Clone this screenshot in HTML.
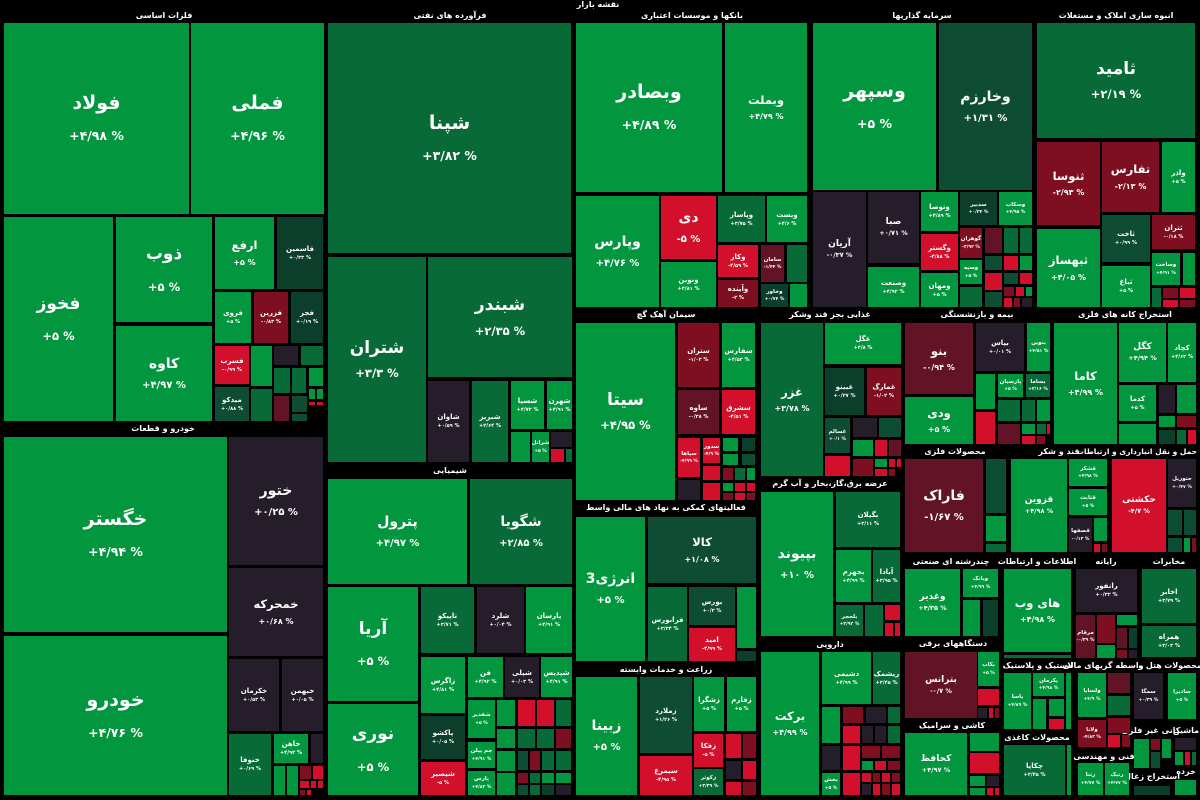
<!DOCTYPE html>
<html><head><meta charset="utf-8">
<style>
html,body{margin:0;padding:0;background:#000;}
#m{position:relative;width:1200px;height:800px;background:#000;overflow:hidden;font-family:"DejaVu Sans","Liberation Sans",sans-serif;color:#fff;}
.c{position:absolute;display:flex;flex-direction:column;align-items:center;justify-content:center;overflow:hidden;text-align:center;line-height:1.15;}
.c b{display:block;font-weight:bold;white-space:nowrap;direction:rtl;}
.c i{display:block;font-style:normal;font-weight:bold;direction:ltr;unicode-bidi:isolate;white-space:nowrap;}
.h{position:absolute;width:200px;height:12px;line-height:12px;font-size:8px;font-weight:bold;text-align:center;white-space:nowrap;direction:rtl;color:#fff;}
.a{background:#02963f}.m{background:#086b37}.d{background:#0e4c34}.e{background:#0b3f2c}
.n{background:#261d2a}.p{background:#621326}.r{background:#7e0f20}.s{background:#d2102c}
.t1 b{font-size:19px}.t1 i{font-size:12.5px;margin-top:14px}
.t2 b{font-size:17px}.t2 i{font-size:11.5px;margin-top:16px}
.t2b b{font-size:17px}.t2b i{font-size:11.5px;margin-top:9px}
.t3 b{font-size:14px}.t3 i{font-size:10px;margin-top:8px}
.t4 b{font-size:11.5px}.t4 i{font-size:8px;margin-top:5px}
.t5 b{font-size:9px}.t5 i{font-size:6.5px;margin-top:3px}
.t6 b{font-size:7px}.t6 i{font-size:5px;margin-top:3px}
.t7 b{font-size:5.5px}.t7 i{font-size:4.5px;margin-top:2px}
</style></head><body>
<div id="m">
<!-- headers -->
<div class="h" style="left:498px;top:-1px">نقشه بازار</div>
<div class="h" style="left:64px;top:10px">فلزات اساسی</div>
<div class="h" style="left:350px;top:10px">فرآورده های نفتی</div>
<div class="h" style="left:592px;top:10px">بانکها و موسسات اعتباری</div>
<div class="h" style="left:822px;top:10px">سرمایه گذاریها</div>
<div class="h" style="left:1016px;top:10px">انبوه سازی املاک و مستغلات</div>
<div class="h" style="left:63px;top:423px">خودرو و قطعات</div>
<div class="h" style="left:350px;top:465px">شیمیایی</div>
<div class="h" style="left:566px;top:309px">سیمان آهک گچ</div>
<div class="h" style="left:566px;top:502px">فعالیتهای کمکی به نهاد های مالی واسط</div>
<div class="h" style="left:566px;top:664px">زراعت و خدمات وابسته</div>
<div class="h" style="left:730px;top:309px">غذایی بجز قند وشکر</div>
<div class="h" style="left:730px;top:478px">عرضه برق،گاز،بخار و آب گرم</div>
<div class="h" style="left:730px;top:639px">دارویی</div>
<div class="h" style="left:877px;top:309px">بیمه و بازنشستگی</div>
<div class="h" style="left:1025px;top:309px">استخراج کانه های فلزی</div>
<div class="h" style="left:855px;top:446px">محصولات فلزی</div>
<div class="h" style="left:959px;top:446px">قند و شکر</div>
<div class="h" style="left:997px;top:446px;text-align:right;font-size:7.5px">حمل و نقل انبارداری و ارتباطات</div>
<div class="h" style="left:851px;top:556px">چندرشته ای صنعتی</div>
<div class="h" style="left:937px;top:556px">اطلاعات و ارتباطات</div>
<div class="h" style="left:1006px;top:556px">رایانه</div>
<div class="h" style="left:1069px;top:556px">مخابرات</div>
<div class="h" style="left:853px;top:638px">دستگاههای برقی</div>
<div class="h" style="left:938px;top:660px">لاستیک و پلاستیک</div>
<div class="h" style="left:1003px;top:660px">واسطه گریهای مالی</div>
<div class="h" style="left:1050px;top:660px">هتل و</div>
<div class="h" style="left:1083px;top:660px">محصولات</div>
<div class="h" style="left:852px;top:720px">کاشی و سرامیک</div>
<div class="h" style="left:937px;top:732px">محصولات کاغذی</div>
<div class="h" style="left:1004px;top:751px">فنی و مهندسی</div>
<div class="h" style="left:1051px;top:725px">کانی غیر فلزی</div>
<div class="h" style="left:1086px;top:725px">ماشین</div>
<div class="h" style="left:1052px;top:771px">استخراج زغال</div>
<div class="h" style="left:1086px;top:766px">خرده</div>

<!-- فلزات اساسی -->
<div class="c a t1" style="left:4px;top:23px;width:185px;height:191px"><b>فولاد</b><i>+۴/۹۸ %</i></div>
<div class="c a t1" style="left:191px;top:23px;width:133px;height:191px"><b>فملی</b><i>+۴/۹۶ %</i></div>
<div class="c a t2" style="left:4px;top:217px;width:109px;height:204px"><b>فخوز</b><i>+۵ %</i></div>
<div class="c a t2" style="left:116px;top:217px;width:96px;height:105px"><b>ذوب</b><i>+۵ %</i></div>
<div class="c a t3" style="left:116px;top:326px;width:96px;height:95px"><b>کاوه</b><i>+۴/۹۷ %</i></div>
<div class="c a t4" style="left:215px;top:217px;width:59px;height:72px"><b>ارفع</b><i>+۵ %</i></div>
<div class="c e t6" style="left:277px;top:217px;width:46px;height:72px"><b>قاسمین</b><i>+۰/۳۳ %</i></div>
<div class="c a t6" style="left:215px;top:292px;width:36px;height:51px"><b>فروی</b><i>+۵ %</i></div>
<div class="c r t6" style="left:254px;top:292px;width:34px;height:51px"><b>فزرین</b><i>-۰/۸۳ %</i></div>
<div class="c e t6" style="left:291px;top:292px;width:32px;height:51px"><b>فجر</b><i>+۰/۱۹ %</i></div>
<div class="c s t6" style="left:215px;top:346px;width:34px;height:38px"><b>فسرب</b><i>-۰/۹۹ %</i></div>
<div class="c d t6" style="left:215px;top:387px;width:34px;height:34px"><b>میدکو</b><i>+۰/۸۸ %</i></div>
<div class="c a" style="left:251px;top:346px;width:21px;height:40px"></div>
<div class="c m" style="left:251px;top:389px;width:21px;height:32px"></div>
<div class="c n" style="left:274px;top:346px;width:24px;height:19px"></div>
<div class="c m" style="left:301px;top:346px;width:22px;height:19px"></div>
<div class="c m" style="left:274px;top:368px;width:16px;height:25px"></div>
<div class="c m" style="left:292px;top:368px;width:14px;height:25px"></div>
<div class="c a" style="left:309px;top:368px;width:14px;height:18px"></div>
<div class="c p" style="left:274px;top:396px;width:15px;height:25px"></div>
<div class="c d" style="left:292px;top:396px;width:15px;height:16px"></div>
<div class="c d" style="left:292px;top:414px;width:15px;height:7px"></div>
<div class="c a" style="left:309px;top:389px;width:6px;height:10px"></div>
<div class="c a" style="left:317px;top:389px;width:6px;height:10px"></div>
<div class="c s" style="left:309px;top:402px;width:6px;height:3px"></div>
<div class="c s" style="left:317px;top:402px;width:6px;height:3px"></div>

<!-- خودرو -->
<div class="c a t1" style="left:4px;top:437px;width:223px;height:195px"><b>خگستر</b><i>+۴/۹۴ %</i></div>
<div class="c a t1" style="left:4px;top:636px;width:223px;height:159px"><b>خودرو</b><i>+۴/۷۶ %</i></div>
<div class="c n t3" style="left:229px;top:437px;width:94px;height:128px"><b>ختور</b><i>+۰/۲۵ %</i></div>
<div class="c n t4" style="left:229px;top:568px;width:94px;height:88px"><b>خمحرکه</b><i>+۰/۶۸ %</i></div>
<div class="c n t6" style="left:229px;top:659px;width:50px;height:72px"><b>خکرمان</b><i>+۰/۵۳ %</i></div>
<div class="c n t6" style="left:282px;top:659px;width:41px;height:72px"><b>خبهمن</b><i>+۰/۰۵ %</i></div>
<div class="c m t6" style="left:229px;top:734px;width:42px;height:61px"><b>خنوفا</b><i>+۰/۶۹ %</i></div>
<div class="c a t6" style="left:274px;top:734px;width:34px;height:29px"><b>خاهن</b><i>+۴/۹۲ %</i></div>
<div class="c n" style="left:311px;top:734px;width:12px;height:29px"></div>
<div class="c a" style="left:274px;top:766px;width:11px;height:29px"></div>
<div class="c a" style="left:287px;top:766px;width:11px;height:29px"></div>
<div class="c r" style="left:300px;top:766px;width:11px;height:13px"></div>
<div class="c s" style="left:313px;top:766px;width:10px;height:13px"></div>
<div class="c s" style="left:300px;top:781px;width:9px;height:7px"></div>
<div class="c s" style="left:311px;top:781px;width:5px;height:7px"></div>
<div class="c s" style="left:318px;top:781px;width:5px;height:7px"></div>
<div class="c r" style="left:300px;top:790px;width:5px;height:5px"></div>
<div class="c s" style="left:307px;top:790px;width:4px;height:5px"></div>

<!-- فرآورده های نفتی -->
<div class="c m t1" style="left:328px;top:23px;width:243px;height:230px"><b>شپنا</b><i>+۳/۸۲ %</i></div>
<div class="c m t2b" style="left:328px;top:257px;width:98px;height:205px"><b>شتران</b><i>+۳/۳ %</i></div>
<div class="c m t2b" style="left:428px;top:257px;width:144px;height:120px"><b>شبندر</b><i>+۲/۳۵ %</i></div>
<div class="c n t6" style="left:428px;top:381px;width:41px;height:81px"><b>شاوان</b><i>+۰/۵۹ %</i></div>
<div class="c m t6" style="left:472px;top:381px;width:36px;height:81px"><b>شبریز</b><i>+۲/۶۴ %</i></div>
<div class="c a t6" style="left:511px;top:381px;width:33px;height:48px"><b>شسپا</b><i>+۴/۷۲ %</i></div>
<div class="c a t6" style="left:547px;top:381px;width:25px;height:48px"><b>شهرن</b><i>+۴/۹۱ %</i></div>
<div class="c a" style="left:511px;top:432px;width:19px;height:30px"></div>
<div class="c a t7" style="left:532px;top:432px;width:17px;height:30px"><b>شرانل</b><i>+۵ %</i></div>
<div class="c n" style="left:551px;top:432px;width:21px;height:15px"></div>
<div class="c s" style="left:551px;top:449px;width:13px;height:13px"></div>
<div class="c m" style="left:566px;top:449px;width:6px;height:13px"></div>

<!-- شیمیایی -->
<div class="c a t3" style="left:328px;top:479px;width:139px;height:105px"><b>پترول</b><i>+۴/۹۷ %</i></div>
<div class="c m t3" style="left:470px;top:479px;width:102px;height:105px"><b>شگویا</b><i>+۲/۸۵ %</i></div>
<div class="c a t2" style="left:328px;top:587px;width:90px;height:114px"><b>آریا</b><i>+۵ %</i></div>
<div class="c a t2" style="left:328px;top:704px;width:90px;height:91px"><b>نوری</b><i>+۵ %</i></div>
<div class="c m t6" style="left:421px;top:587px;width:53px;height:66px"><b>تاپیکو</b><i>+۳/۷۱ %</i></div>
<div class="c n t6" style="left:477px;top:587px;width:47px;height:66px"><b>شلرد</b><i>+۰/۰۴ %</i></div>
<div class="c a t6" style="left:526px;top:587px;width:46px;height:66px"><b>پارسان</b><i>+۴/۹۱ %</i></div>
<div class="c a t6" style="left:421px;top:657px;width:44px;height:56px"><b>زاگرس</b><i>+۴/۸۱ %</i></div>
<div class="c a t6" style="left:468px;top:657px;width:35px;height:40px"><b>فن</b><i>+۴/۹۲ %</i></div>
<div class="c n t6" style="left:505px;top:657px;width:34px;height:40px"><b>شپلی</b><i>+۰/۰۳ %</i></div>
<div class="c a t6" style="left:541px;top:657px;width:31px;height:40px"><b>شپدیس</b><i>+۴/۹۱ %</i></div>
<div class="c e t6" style="left:421px;top:716px;width:44px;height:43px"><b>پاکشو</b><i>+۰/۰۵ %</i></div>
<div class="c s t6" style="left:421px;top:762px;width:44px;height:33px"><b>شیصیر</b><i>-۵ %</i></div>
<div class="c a t7" style="left:468px;top:700px;width:27px;height:38px"><b>شفدیر</b><i>+۵ %</i></div>
<div class="c a t7" style="left:468px;top:742px;width:27px;height:26px"><b>جم پیلن</b><i>+۴/۹۱ %</i></div>
<div class="c a t7" style="left:468px;top:771px;width:27px;height:24px"><b>پارس</b><i>+۴/۸۲ %</i></div>
<div class="c a" style="left:497px;top:700px;width:18px;height:26px"></div>
<div class="c s" style="left:518px;top:700px;width:17px;height:26px"></div>
<div class="c s" style="left:537px;top:700px;width:17px;height:26px"></div>
<div class="c m" style="left:556px;top:700px;width:15px;height:26px"></div>
<div class="c a" style="left:497px;top:729px;width:18px;height:19px"></div>
<div class="c m" style="left:518px;top:729px;width:17px;height:19px"></div>
<div class="c m" style="left:537px;top:729px;width:17px;height:19px"></div>
<div class="c r" style="left:556px;top:729px;width:15px;height:19px"></div>
<div class="c a" style="left:497px;top:751px;width:18px;height:20px"></div>
<div class="c d" style="left:518px;top:751px;width:10px;height:19px"></div>
<div class="c r" style="left:530px;top:751px;width:10px;height:19px"></div>
<div class="c m" style="left:542px;top:751px;width:12px;height:19px"></div>
<div class="c m" style="left:556px;top:751px;width:15px;height:19px"></div>
<div class="c a" style="left:497px;top:773px;width:18px;height:22px"></div>
<div class="c r" style="left:518px;top:773px;width:10px;height:10px"></div>
<div class="c m" style="left:530px;top:773px;width:10px;height:10px"></div>
<div class="c a" style="left:542px;top:773px;width:12px;height:10px"></div>
<div class="c a" style="left:556px;top:773px;width:15px;height:10px"></div>
<div class="c d" style="left:518px;top:785px;width:10px;height:10px"></div>
<div class="c m" style="left:530px;top:785px;width:10px;height:10px"></div>
<div class="c e" style="left:542px;top:785px;width:12px;height:10px"></div>
<div class="c n" style="left:556px;top:785px;width:15px;height:10px"></div>

<!-- بانکها -->
<div class="c a t1" style="left:576px;top:23px;width:146px;height:169px"><b>وبصادر</b><i>+۴/۸۹ %</i></div>
<div class="c a t4" style="left:725px;top:23px;width:82px;height:169px"><b>وبملت</b><i>+۴/۷۹ %</i></div>
<div class="c a t3" style="left:576px;top:196px;width:83px;height:111px"><b>وپارس</b><i>+۴/۷۶ %</i></div>
<div class="c s t3" style="left:661px;top:196px;width:55px;height:63px"><b>دی</b><i>-۵ %</i></div>
<div class="c a t6" style="left:661px;top:262px;width:55px;height:45px"><b>ونوین</b><i>+۴/۸۱ %</i></div>
<div class="c m t6" style="left:718px;top:196px;width:47px;height:46px"><b>وپاسار</b><i>+۳/۷۵ %</i></div>
<div class="c a t6" style="left:767px;top:196px;width:40px;height:46px"><b>وبست</b><i>+۴/۶ %</i></div>
<div class="c s t6" style="left:718px;top:245px;width:40px;height:32px"><b>وکار</b><i>-۴/۵۹ %</i></div>
<div class="c r t6" style="left:718px;top:280px;width:40px;height:27px"><b>وآینده</b><i>-۲ %</i></div>
<div class="c p t7" style="left:761px;top:245px;width:23px;height:37px"><b>سامان</b><i>-۱/۴۴ %</i></div>
<div class="c m" style="left:787px;top:245px;width:20px;height:37px"></div>
<div class="c e t7" style="left:761px;top:284px;width:27px;height:23px"><b>وخاور</b><i>+۰/۷۴ %</i></div>
<div class="c a" style="left:790px;top:284px;width:17px;height:23px"></div>

<!-- سرمایه گذاریها -->
<div class="c a t1" style="left:813px;top:23px;width:123px;height:167px"><b>وسپهر</b><i>+۵ %</i></div>
<div class="c d t3" style="left:939px;top:23px;width:93px;height:167px"><b>وخارزم</b><i>+۱/۳۱ %</i></div>
<div class="c n t5" style="left:813px;top:192px;width:53px;height:115px"><b>آریان</b><i>-۰/۳۷ %</i></div>
<div class="c n t5" style="left:868px;top:192px;width:51px;height:71px"><b>صبا</b><i>+۰/۷۱ %</i></div>
<div class="c a t6" style="left:868px;top:267px;width:51px;height:40px"><b>وصنعت</b><i>+۴/۹۲ %</i></div>
<div class="c a t6" style="left:921px;top:192px;width:37px;height:39px"><b>وتوصا</b><i>+۴/۸۹ %</i></div>
<div class="c s t6" style="left:921px;top:234px;width:37px;height:36px"><b>وگستر</b><i>-۴/۸۸ %</i></div>
<div class="c a t6" style="left:921px;top:273px;width:37px;height:34px"><b>ومهان</b><i>+۵ %</i></div>
<div class="c e t7" style="left:960px;top:192px;width:37px;height:33px"><b>سدبیر</b><i>+۰/۲۴ %</i></div>
<div class="c a t7" style="left:999px;top:192px;width:33px;height:33px"><b>وسکاب</b><i>+۴/۹۵ %</i></div>
<div class="c r t7" style="left:960px;top:228px;width:22px;height:30px"><b>گوهران</b><i>-۳/۹۲ %</i></div>
<div class="c p" style="left:985px;top:228px;width:17px;height:25px"></div>
<div class="c m" style="left:1004px;top:228px;width:14px;height:25px"></div>
<div class="c m" style="left:1020px;top:228px;width:12px;height:25px"></div>
<div class="c a t7" style="left:960px;top:260px;width:22px;height:24px"><b>وسپه</b><i>+۵ %</i></div>
<div class="c m" style="left:960px;top:287px;width:22px;height:20px"></div>
<div class="c d" style="left:985px;top:256px;width:17px;height:14px"></div>
<div class="c s" style="left:1004px;top:256px;width:14px;height:14px"></div>
<div class="c a" style="left:1020px;top:256px;width:12px;height:14px"></div>
<div class="c s" style="left:985px;top:273px;width:17px;height:17px"></div>
<div class="c d" style="left:1004px;top:273px;width:14px;height:11px"></div>
<div class="c s" style="left:1020px;top:273px;width:12px;height:11px"></div>
<div class="c d" style="left:985px;top:292px;width:17px;height:15px"></div>
<div class="c r" style="left:1004px;top:287px;width:10px;height:9px"></div>
<div class="c s" style="left:1016px;top:287px;width:8px;height:9px"></div>
<div class="c a" style="left:1026px;top:287px;width:6px;height:9px"></div>
<div class="c s" style="left:1004px;top:298px;width:8px;height:9px"></div>
<div class="c r" style="left:1014px;top:298px;width:6px;height:9px"></div>
<div class="c n" style="left:1022px;top:298px;width:10px;height:9px"></div>

<!-- انبوه سازی -->
<div class="c m t2b" style="left:1037px;top:23px;width:158px;height:115px"><b>ثامید</b><i>+۲/۱۹ %</i></div>
<div class="c r t4" style="left:1037px;top:142px;width:63px;height:83px"><b>ثنوسا</b><i>-۲/۹۳ %</i></div>
<div class="c r t4" style="left:1102px;top:142px;width:57px;height:70px"><b>تفارس</b><i>-۲/۱۳ %</i></div>
<div class="c a t6" style="left:1162px;top:142px;width:33px;height:70px"><b>واذر</b><i>+۵ %</i></div>
<div class="c a t4" style="left:1037px;top:229px;width:63px;height:78px"><b>ثبهساز</b><i>+۴/۰۵ %</i></div>
<div class="c d t6" style="left:1102px;top:215px;width:48px;height:47px"><b>ثاخت</b><i>+۰/۹۹ %</i></div>
<div class="c r t6" style="left:1152px;top:215px;width:43px;height:34px"><b>ثتران</b><i>-۰/۱۸ %</i></div>
<div class="c a t7" style="left:1152px;top:253px;width:28px;height:32px"><b>وساخت</b><i>+۴/۹۱ %</i></div>
<div class="c a" style="left:1183px;top:253px;width:12px;height:32px"></div>
<div class="c a t6" style="left:1102px;top:266px;width:48px;height:41px"><b>ثباغ</b><i>+۵ %</i></div>
<div class="c m" style="left:1152px;top:288px;width:9px;height:19px"></div>
<div class="c r" style="left:1163px;top:288px;width:15px;height:10px"></div>
<div class="c s" style="left:1180px;top:288px;width:15px;height:10px"></div>
<div class="c s" style="left:1163px;top:300px;width:15px;height:7px"></div>
<div class="c r" style="left:1180px;top:300px;width:15px;height:7px"></div>

<!-- سیمان -->
<div class="c a t2b" style="left:576px;top:323px;width:99px;height:177px"><b>سیتا</b><i>+۴/۹۵ %</i></div>
<div class="c r t6" style="left:678px;top:323px;width:41px;height:64px"><b>ستران</b><i>-۱/۰۳ %</i></div>
<div class="c a t6" style="left:722px;top:323px;width:33px;height:64px"><b>سفارس</b><i>+۴/۵۳ %</i></div>
<div class="c p t6" style="left:678px;top:390px;width:41px;height:44px"><b>ساوه</b><i>-۰/۳۸ %</i></div>
<div class="c s t6" style="left:722px;top:390px;width:33px;height:44px"><b>سشرق</b><i>-۴/۵۱ %</i></div>
<div class="c s t7" style="left:678px;top:438px;width:22px;height:39px"><b>سپاها</b><i>-۴/۹۹ %</i></div>
<div class="c s t7" style="left:703px;top:438px;width:17px;height:25px"><b>سدور</b><i>-۴/۹ %</i></div>
<div class="c s" style="left:703px;top:466px;width:17px;height:14px"></div>
<div class="c n" style="left:678px;top:480px;width:22px;height:20px"></div>
<div class="c s" style="left:703px;top:483px;width:17px;height:17px"></div>
<div class="c a" style="left:723px;top:438px;width:15px;height:13px"></div>
<div class="c e" style="left:742px;top:438px;width:13px;height:13px"></div>
<div class="c a" style="left:723px;top:454px;width:15px;height:11px"></div>
<div class="c d" style="left:742px;top:454px;width:13px;height:11px"></div>
<div class="c r" style="left:723px;top:468px;width:10px;height:12px"></div>
<div class="c m" style="left:735px;top:468px;width:10px;height:12px"></div>
<div class="c a" style="left:747px;top:468px;width:8px;height:12px"></div>
<div class="c a" style="left:723px;top:483px;width:10px;height:8px"></div>
<div class="c s" style="left:735px;top:483px;width:10px;height:8px"></div>
<div class="c s" style="left:747px;top:483px;width:8px;height:8px"></div>
<div class="c r" style="left:723px;top:493px;width:10px;height:7px"></div>
<div class="c s" style="left:735px;top:493px;width:10px;height:7px"></div>
<div class="c r" style="left:747px;top:493px;width:8px;height:7px"></div>

<!-- فعالیتهای کمکی -->
<div class="c a t3" style="left:576px;top:517px;width:69px;height:144px"><b>انرژی3</b><i>+۵ %</i></div>
<div class="c d t4" style="left:648px;top:517px;width:108px;height:66px"><b>کالا</b><i>+۱/۰۸ %</i></div>
<div class="c m t6" style="left:648px;top:587px;width:39px;height:74px"><b>فرابورس</b><i>+۳/۳۴ %</i></div>
<div class="c d t6" style="left:689px;top:587px;width:46px;height:38px"><b>بورس</b><i>+۰/۳ %</i></div>
<div class="c s t6" style="left:689px;top:628px;width:46px;height:33px"><b>امید</b><i>-۴/۹۹ %</i></div>
<div class="c a" style="left:737px;top:587px;width:19px;height:61px"></div>
<div class="c e" style="left:737px;top:651px;width:19px;height:10px"></div>

<!-- زراعت -->
<div class="c a t3" style="left:576px;top:677px;width:61px;height:118px"><b>زبینا</b><i>+۵ %</i></div>
<div class="c d t6" style="left:640px;top:677px;width:52px;height:76px"><b>زملارد</b><i>+۱/۲۶ %</i></div>
<div class="c s t6" style="left:640px;top:756px;width:52px;height:39px"><b>سیمرغ</b><i>-۴/۹۵ %</i></div>
<div class="c a t6" style="left:694px;top:677px;width:30px;height:54px"><b>زشگرا</b><i>+۵ %</i></div>
<div class="c a t6" style="left:727px;top:677px;width:29px;height:54px"><b>زفارم</b><i>+۵ %</i></div>
<div class="c s t6" style="left:694px;top:734px;width:29px;height:33px"><b>زفکا</b><i>-۵ %</i></div>
<div class="c m t7" style="left:694px;top:769px;width:29px;height:26px"><b>زکوثر</b><i>+۳/۳۹ %</i></div>
<div class="c s" style="left:726px;top:734px;width:15px;height:24px"></div>
<div class="c r" style="left:743px;top:734px;width:13px;height:24px"></div>
<div class="c n" style="left:726px;top:761px;width:15px;height:18px"></div>
<div class="c s" style="left:743px;top:761px;width:13px;height:18px"></div>
<div class="c s" style="left:726px;top:782px;width:15px;height:13px"></div>
<div class="c r" style="left:743px;top:782px;width:13px;height:13px"></div>

<!-- غذایی -->
<div class="c m t4" style="left:761px;top:323px;width:62px;height:153px"><b>غزر</b><i>+۳/۷۸ %</i></div>
<div class="c a t6" style="left:825px;top:323px;width:76px;height:41px"><b>غگل</b><i>+۴/۸ %</i></div>
<div class="c e t6" style="left:825px;top:368px;width:39px;height:47px"><b>غبینو</b><i>+۰/۲۷ %</i></div>
<div class="c r t6" style="left:867px;top:368px;width:34px;height:47px"><b>غمارگ</b><i>-۱/۰۲ %</i></div>
<div class="c d t7" style="left:825px;top:418px;width:25px;height:35px"><b>غسالم</b><i>+۰/۱ %</i></div>
<div class="c s" style="left:825px;top:456px;width:25px;height:20px"></div>
<div class="c n" style="left:853px;top:418px;width:24px;height:19px"></div>
<div class="c d" style="left:879px;top:418px;width:22px;height:19px"></div>
<div class="c a" style="left:853px;top:440px;width:20px;height:16px"></div>
<div class="c s" style="left:875px;top:440px;width:12px;height:16px"></div>
<div class="c p" style="left:889px;top:440px;width:12px;height:16px"></div>
<div class="c r" style="left:853px;top:459px;width:20px;height:17px"></div>
<div class="c a" style="left:875px;top:459px;width:12px;height:8px"></div>
<div class="c s" style="left:889px;top:459px;width:6px;height:8px"></div>
<div class="c s" style="left:897px;top:459px;width:4px;height:8px"></div>
<div class="c s" style="left:875px;top:469px;width:12px;height:7px"></div>
<div class="c r" style="left:889px;top:469px;width:6px;height:7px"></div>

<!-- عرضه برق -->
<div class="c a t3" style="left:761px;top:492px;width:72px;height:144px"><b>بپیوند</b><i>+۱۰ %</i></div>
<div class="c m t6" style="left:836px;top:492px;width:64px;height:55px"><b>بگیلان</b><i>+۳/۱۱ %</i></div>
<div class="c a t6" style="left:836px;top:550px;width:35px;height:52px"><b>بجهرم</b><i>+۴/۹۹ %</i></div>
<div class="c m t6" style="left:873px;top:550px;width:27px;height:52px"><b>آبادا</b><i>+۳/۹۵ %</i></div>
<div class="c m t7" style="left:836px;top:605px;width:27px;height:31px"><b>بلحجر</b><i>+۳/۹۲ %</i></div>
<div class="c m" style="left:865px;top:605px;width:18px;height:31px"></div>
<div class="c s" style="left:885px;top:605px;width:15px;height:15px"></div>
<div class="c s" style="left:885px;top:623px;width:8px;height:13px"></div>
<div class="c s" style="left:895px;top:623px;width:5px;height:13px"></div>

<!-- دارویی -->
<div class="c a t4" style="left:761px;top:652px;width:58px;height:143px"><b>برکت</b><i>+۴/۹۹ %</i></div>
<div class="c a t6" style="left:822px;top:652px;width:49px;height:52px"><b>دشیمی</b><i>+۴/۹۹ %</i></div>
<div class="c m t6" style="left:873px;top:652px;width:27px;height:52px"><b>ریشمک</b><i>+۳/۴۵ %</i></div>
<div class="c a" style="left:822px;top:707px;width:18px;height:36px"></div>
<div class="c r" style="left:843px;top:707px;width:20px;height:16px"></div>
<div class="c n" style="left:866px;top:707px;width:20px;height:16px"></div>
<div class="c m" style="left:888px;top:707px;width:12px;height:16px"></div>
<div class="c s" style="left:843px;top:726px;width:17px;height:17px"></div>
<div class="c n" style="left:862px;top:726px;width:11px;height:17px"></div>
<div class="c n" style="left:875px;top:726px;width:11px;height:17px"></div>
<div class="c m" style="left:888px;top:726px;width:12px;height:17px"></div>
<div class="c n" style="left:822px;top:746px;width:18px;height:24px"></div>
<div class="c s" style="left:843px;top:746px;width:17px;height:24px"></div>
<div class="c r" style="left:862px;top:746px;width:18px;height:12px"></div>
<div class="c r" style="left:882px;top:746px;width:18px;height:12px"></div>
<div class="c a" style="left:862px;top:761px;width:11px;height:9px"></div>
<div class="c s" style="left:875px;top:761px;width:11px;height:9px"></div>
<div class="c r" style="left:888px;top:761px;width:12px;height:9px"></div>
<div class="c a t7" style="left:822px;top:773px;width:18px;height:22px"><b>بخش</b><i>+۵ %</i></div>
<div class="c s" style="left:843px;top:773px;width:17px;height:22px"></div>
<div class="c s" style="left:862px;top:773px;width:9px;height:9px"></div>
<div class="c r" style="left:873px;top:773px;width:7px;height:9px"></div>
<div class="c s" style="left:882px;top:773px;width:8px;height:9px"></div>
<div class="c r" style="left:892px;top:773px;width:8px;height:9px"></div>
<div class="c n" style="left:862px;top:784px;width:9px;height:11px"></div>
<div class="c s" style="left:873px;top:784px;width:7px;height:11px"></div>
<div class="c r" style="left:882px;top:784px;width:8px;height:11px"></div>
<div class="c s" style="left:892px;top:784px;width:8px;height:11px"></div>

<!-- بیمه -->
<div class="c p t4" style="left:905px;top:323px;width:68px;height:71px"><b>بنو</b><i>-۰/۹۴ %</i></div>
<div class="c a t4" style="left:905px;top:397px;width:68px;height:47px"><b>ودی</b><i>+۵ %</i></div>
<div class="c n t6" style="left:976px;top:323px;width:48px;height:48px"><b>بپاس</b><i>+۰/۰۱ %</i></div>
<div class="c a t7" style="left:1027px;top:323px;width:23px;height:48px"><b>بنوین</b><i>+۴/۵۱ %</i></div>
<div class="c a" style="left:976px;top:374px;width:19px;height:35px"></div>
<div class="c a t7" style="left:998px;top:374px;width:25px;height:23px"><b>پارسیان</b><i>+۵ %</i></div>
<div class="c m t7" style="left:1026px;top:374px;width:24px;height:23px"><b>بساما</b><i>+۳/۱۶ %</i></div>
<div class="c m" style="left:998px;top:400px;width:22px;height:21px"></div>
<div class="c m" style="left:1022px;top:400px;width:13px;height:21px"></div>
<div class="c a" style="left:1037px;top:400px;width:13px;height:21px"></div>
<div class="c s" style="left:976px;top:412px;width:19px;height:32px"></div>
<div class="c p" style="left:998px;top:424px;width:22px;height:20px"></div>
<div class="c a" style="left:1022px;top:424px;width:13px;height:10px"></div>
<div class="c m" style="left:1037px;top:424px;width:9px;height:10px"></div>
<div class="c s" style="left:1047px;top:424px;width:3px;height:10px"></div>
<div class="c s" style="left:1022px;top:436px;width:13px;height:8px"></div>
<div class="c r" style="left:1037px;top:436px;width:8px;height:8px"></div>

<!-- استخراج کانه -->
<div class="c a t4" style="left:1054px;top:323px;width:63px;height:121px"><b>کاما</b><i>+۴/۹۹ %</i></div>
<div class="c a t5" style="left:1119px;top:323px;width:47px;height:59px"><b>کگل</b><i>+۴/۹۴ %</i></div>
<div class="c a t6" style="left:1168px;top:323px;width:28px;height:59px"><b>کچاد</b><i>+۴/۶۲ %</i></div>
<div class="c a t6" style="left:1119px;top:385px;width:37px;height:36px"><b>کدما</b><i>+۵ %</i></div>
<div class="c n" style="left:1159px;top:385px;width:16px;height:28px"></div>
<div class="c a" style="left:1177px;top:385px;width:19px;height:28px"></div>
<div class="c a" style="left:1119px;top:424px;width:37px;height:20px"></div>
<div class="c a" style="left:1159px;top:416px;width:16px;height:11px"></div>
<div class="c r" style="left:1177px;top:416px;width:19px;height:11px"></div>
<div class="c e" style="left:1159px;top:430px;width:16px;height:14px"></div>
<div class="c m" style="left:1177px;top:430px;width:9px;height:14px"></div>
<div class="c s" style="left:1188px;top:430px;width:8px;height:14px"></div>

<!-- محصولات فلزی -->
<div class="c p t3" style="left:905px;top:459px;width:78px;height:93px"><b>فاراک</b><i>-۱/۶۷ %</i></div>
<div class="c d" style="left:986px;top:459px;width:20px;height:54px"></div>
<div class="c a" style="left:986px;top:516px;width:20px;height:25px"></div>
<div class="c m" style="left:986px;top:544px;width:20px;height:8px"></div>

<!-- قند و شکر -->
<div class="c a t5" style="left:1011px;top:459px;width:56px;height:93px"><b>قزوین</b><i>+۴/۹۸ %</i></div>
<div class="c a t7" style="left:1069px;top:459px;width:38px;height:27px"><b>قشکر</b><i>+۴/۹۸ %</i></div>
<div class="c a t7" style="left:1069px;top:489px;width:38px;height:26px"><b>قثابت</b><i>+۵ %</i></div>
<div class="c n t7" style="left:1069px;top:518px;width:23px;height:34px"><b>قصفها</b><i>-۰/۱۳ %</i></div>
<div class="c a" style="left:1094px;top:518px;width:13px;height:23px"></div>
<div class="c s" style="left:1094px;top:544px;width:6px;height:8px"></div>
<div class="c r" style="left:1102px;top:544px;width:5px;height:8px"></div>

<!-- حمل و نقل -->
<div class="c s t5" style="left:1112px;top:459px;width:54px;height:93px"><b>حکشتی</b><i>-۴/۷ %</i></div>
<div class="c n t7" style="left:1168px;top:459px;width:28px;height:48px"><b>حتوریل</b><i>+۰/۴۷ %</i></div>
<div class="c d" style="left:1168px;top:510px;width:14px;height:25px"></div>
<div class="c d" style="left:1184px;top:510px;width:12px;height:25px"></div>
<div class="c d" style="left:1168px;top:538px;width:14px;height:14px"></div>
<div class="c a" style="left:1184px;top:538px;width:6px;height:14px"></div>
<div class="c r" style="left:1192px;top:538px;width:4px;height:14px"></div>

<!-- چندرشته ای -->
<div class="c a t5" style="left:905px;top:569px;width:55px;height:67px"><b>وغدیر</b><i>+۴/۳۵ %</i></div>
<div class="c a t7" style="left:963px;top:569px;width:35px;height:28px"><b>وبانک</b><i>+۴/۹۹ %</i></div>
<div class="c a" style="left:963px;top:600px;width:17px;height:36px"></div>
<div class="c e" style="left:983px;top:600px;width:15px;height:36px"></div>

<!-- اطلاعات -->
<div class="c a t4" style="left:1004px;top:569px;width:67px;height:83px"><b>های وب</b><i>+۴/۹۸ %</i></div>
<div class="c m" style="left:1004px;top:655px;width:67px;height:3px"></div>

<!-- رایانه -->
<div class="c n t6" style="left:1076px;top:569px;width:61px;height:43px"><b>رانفور</b><i>+۰/۳۲ %</i></div>
<div class="c p t7" style="left:1076px;top:615px;width:19px;height:43px"><b>مرقام</b><i>-۰/۳۹ %</i></div>
<div class="c r" style="left:1097px;top:615px;width:18px;height:28px"></div>
<div class="c a" style="left:1117px;top:615px;width:20px;height:10px"></div>
<div class="c p" style="left:1117px;top:628px;width:10px;height:20px"></div>
<div class="c e" style="left:1129px;top:628px;width:8px;height:20px"></div>
<div class="c a" style="left:1097px;top:645px;width:18px;height:13px"></div>
<div class="c r" style="left:1117px;top:650px;width:10px;height:8px"></div>
<div class="c n" style="left:1129px;top:650px;width:8px;height:8px"></div>

<!-- مخابرات -->
<div class="c m t6" style="left:1142px;top:569px;width:54px;height:54px"><b>اخابر</b><i>+۳/۷۹ %</i></div>
<div class="c m t6" style="left:1142px;top:626px;width:54px;height:31px"><b>همراه</b><i>+۳/۰۳ %</i></div>

<!-- دستگاههای برقی -->
<div class="c p t5" style="left:905px;top:652px;width:72px;height:66px"><b>بترانس</b><i>-۰/۷ %</i></div>
<div class="c a t7" style="left:978px;top:652px;width:21px;height:34px"><b>بکاب</b><i>+۵ %</i></div>
<div class="c s" style="left:978px;top:689px;width:21px;height:16px"></div>
<div class="c n" style="left:978px;top:708px;width:9px;height:10px"></div>
<div class="c s" style="left:989px;top:708px;width:4px;height:10px"></div>
<div class="c r" style="left:995px;top:708px;width:4px;height:10px"></div>

<!-- کاشی -->
<div class="c a t5" style="left:905px;top:733px;width:62px;height:62px"><b>کحافظ</b><i>+۴/۹۷ %</i></div>
<div class="c a" style="left:970px;top:733px;width:29px;height:18px"></div>
<div class="c s" style="left:970px;top:753px;width:29px;height:20px"></div>
<div class="c a" style="left:970px;top:776px;width:15px;height:10px"></div>
<div class="c n" style="left:987px;top:776px;width:12px;height:10px"></div>
<div class="c a" style="left:970px;top:788px;width:15px;height:7px"></div>
<div class="c s" style="left:987px;top:788px;width:6px;height:7px"></div>
<div class="c s" style="left:995px;top:788px;width:4px;height:7px"></div>

<!-- لاستیک -->
<div class="c a t7" style="left:1004px;top:673px;width:27px;height:56px"><b>یاسا</b><i>+۴/۸۹ %</i></div>
<div class="c a t7" style="left:1033px;top:673px;width:31px;height:23px"><b>پکرمان</b><i>+۴/۹۸ %</i></div>
<div class="c a" style="left:1033px;top:699px;width:13px;height:30px"></div>
<div class="c a" style="left:1049px;top:699px;width:15px;height:17px"></div>
<div class="c s" style="left:1049px;top:719px;width:15px;height:10px"></div>
<div class="c a" style="left:1066px;top:673px;width:5px;height:56px"></div>

<!-- کاغذی -->
<div class="c m t6" style="left:1004px;top:745px;width:61px;height:50px"><b>چکاپا</b><i>+۲/۴۵ %</i></div>
<div class="c a" style="left:1067px;top:745px;width:4px;height:50px"></div>

<!-- واسطه گری -->
<div class="c a t7" style="left:1078px;top:673px;width:28px;height:44px"><b>ولسایا</b><i>+۴/۹ %</i></div>
<div class="c p" style="left:1108px;top:673px;width:22px;height:20px"></div>
<div class="c m" style="left:1108px;top:696px;width:22px;height:19px"></div>
<div class="c r t7" style="left:1078px;top:720px;width:28px;height:27px"><b>ولانا</b><i>-۴/۸۲ %</i></div>
<div class="c r" style="left:1108px;top:718px;width:22px;height:15px"></div>
<div class="c s" style="left:1108px;top:735px;width:12px;height:12px"></div>
<div class="c r" style="left:1122px;top:735px;width:8px;height:12px"></div>

<!-- فنی -->
<div class="c a t7" style="left:1078px;top:763px;width:25px;height:32px"><b>رتنا</b><i>+۴/۷۷ %</i></div>
<div class="c a t7" style="left:1105px;top:763px;width:24px;height:32px"><b>رنیک</b><i>+۴/۷۷ %</i></div>

<!-- هتل / محصولات -->
<div class="c n t7" style="left:1134px;top:673px;width:29px;height:46px"><b>سمگا</b><i>+۰/۳۹ %</i></div>
<div class="c a t7" style="left:1168px;top:673px;width:28px;height:46px"><b>سادیرا</b><i>+۵ %</i></div>

<!-- کانی / ماشین / زغال / خرده -->
<div class="c a" style="left:1134px;top:739px;width:15px;height:29px"></div>
<div class="c r" style="left:1151px;top:739px;width:9px;height:11px"></div>
<div class="c a" style="left:1162px;top:739px;width:9px;height:19px"></div>
<div class="c d" style="left:1151px;top:752px;width:9px;height:16px"></div>
<div class="c n" style="left:1175px;top:738px;width:21px;height:12px"></div>
<div class="c a" style="left:1175px;top:752px;width:8px;height:13px"></div>
<div class="c s" style="left:1185px;top:752px;width:5px;height:13px"></div>
<div class="c m" style="left:1192px;top:752px;width:4px;height:13px"></div>
<div class="c e" style="left:1134px;top:786px;width:36px;height:9px"></div>
<div class="c a" style="left:1175px;top:780px;width:21px;height:15px"></div>
</div>
</body></html>
